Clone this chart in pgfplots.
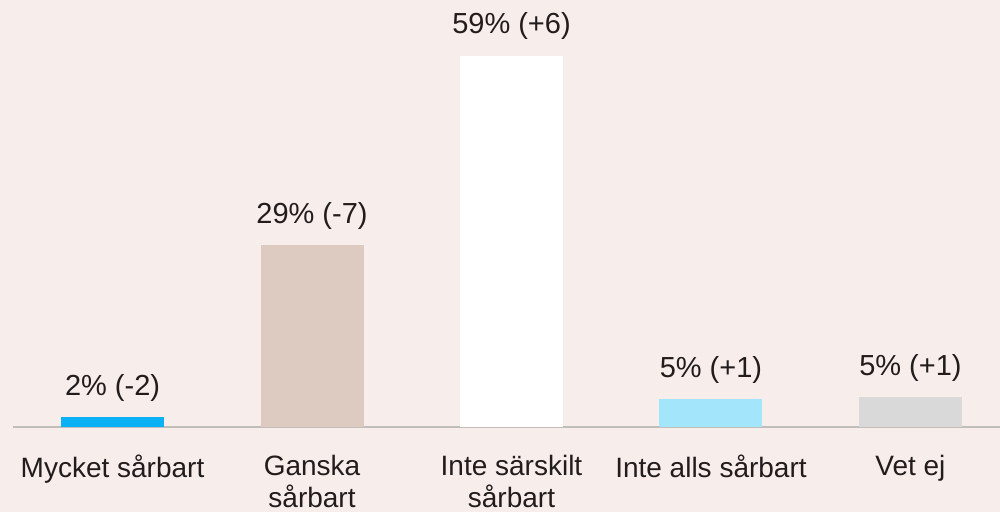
\documentclass[border=0pt]{standalone}
\usepackage{pgfplots}
\pgfplotsset{compat=1.18}
\usepackage{fontspec}
\setmainfont{Liberation Sans}
\definecolor{bg}{HTML}{F7EEEB}
\definecolor{c1}{HTML}{0AB2F5}
\definecolor{c2}{HTML}{DDCBC1}
\definecolor{c3}{HTML}{FFFFFF}
\definecolor{c4}{HTML}{A3E6FC}
\definecolor{c5}{HTML}{D9D9D9}
\definecolor{axisgray}{HTML}{C0BDBB}
\definecolor{txt}{HTML}{221C1C}
\begin{document}
\begin{tikzpicture}
\fill[bg] (0,0) rectangle (500pt,256pt);
\useasboundingbox (0,0) rectangle (500pt,256pt);
\begin{axis}[
    at={(6.4pt,42.25pt)}, anchor=south west,
    scale only axis,
    width=493.6pt, height=189pt,
    xmin=-0.5, xmax=4.449,
    ymin=0, ymax=60,
    axis x line*=bottom,
    axis y line=none,
    x axis line style={-, draw=axisgray, line width=1pt},
    xtick={0,1,2,3,4},
    xticklabels={Mycket sårbart, Ganska\\sårbart, Inte särskilt\\sårbart, Inte alls sårbart, Vet ej},
    major tick length=0pt,
    xticklabel style={font=\fontsize{14}{16}\selectfont, text=txt, align=center, anchor=north, inner sep=0pt, yshift=-13.5pt},
    ybar, bar width=51.5pt, bar shift=0pt,
    clip=false,
    point meta=explicit symbolic,
    nodes near coords,
    every node near coord/.append style={font=\fontsize{14.5}{16}\selectfont, text=txt, anchor=base, inner sep=0pt, yshift=11pt},
]
\addplot[fill=c1, draw=none] coordinates {(0,1.6) [2\% (-2)]};
\addplot[fill=c2, draw=none] coordinates {(1,28.9) [29\% (-7)]};
\addplot[fill=c3, draw=none] coordinates {(2,59) [59\% (+6)]};
\addplot[fill=c4, draw=none] coordinates {(3,4.5) [5\% (+1)]};
\addplot[fill=c5, draw=none] coordinates {(4,4.8) [5\% (+1)]};
\end{axis}
\end{tikzpicture}
\end{document}
